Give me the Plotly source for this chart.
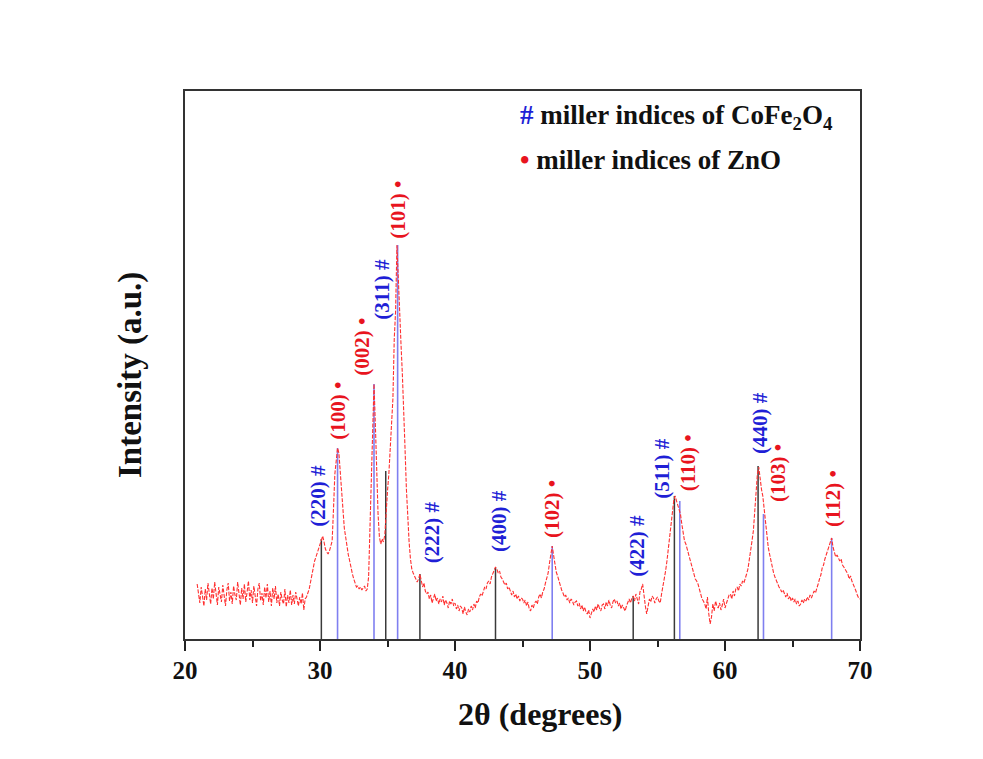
import plotly.graph_objects as go

# ---------------- data ----------------
theta_start = 20.9
theta_step = 0.1
intensity = [
    55,
    44, 36, 52, 41, 33, 50, 39, 56, 45, 35,
    51, 40, 57, 44, 34, 52, 43, 37, 54, 41,
    33, 49, 56, 38, 47, 35, 53, 44, 39, 57,
    43, 34, 51, 40, 55, 37, 47, 58, 39, 49,
    36, 53, 43, 33, 50, 56, 38, 46, 34, 52,
    41, 55, 37, 48, 33, 51, 40, 53, 36, 45,
    33, 47, 39, 35, 50, 32, 44, 36, 49, 34,
    44, 35, 47, 38, 33, 42, 35, 46, 29, 40,
    42, 46, 50, 57, 64, 72, 78, 82, 86, 90,
    96, 100, 103, 97, 90, 87, 85, 88, 92, 98,
    130, 165, 178, 191, 186, 168, 148, 126, 111, 102,
    91, 84, 78, 70, 65, 60, 56, 52, 53, 50,
    52, 49, 51, 53, 48, 50, 62, 110, 170, 225,
    255, 215, 165, 125, 102, 95, 100, 97, 104, 130,
    148, 165, 188, 212, 240, 300, 328, 394, 355, 320,
    295, 265, 235, 190, 150, 120, 97, 80, 70, 66,
    62, 60, 57, 60, 65, 58, 52, 56, 48, 45,
    47, 40, 44, 36, 42, 45, 38, 41, 35, 40,
    37, 43, 34, 39, 36, 31, 38, 35, 40, 33,
    36, 30, 34, 28, 33, 31, 25, 32, 27, 24,
    30, 27, 33, 29, 35, 31, 38, 36, 42, 45,
    43, 48, 52, 50, 56, 58, 55, 62, 66, 69,
    72, 70, 66, 68, 62, 60, 57, 54, 56, 50,
    52, 47, 44, 48, 42, 45, 40, 43, 38, 41,
    40, 36, 39, 33, 37, 30, 28, 34, 31, 36,
    38, 35, 42, 45, 41, 47, 50, 56, 60, 66,
    76, 86, 93, 84, 74, 67, 63, 58, 52, 49,
    46, 42, 44, 39, 41, 36, 40, 38, 34, 37,
    38, 33, 36, 30, 34, 28, 32, 27, 25, 29,
    21, 26, 30, 27, 33, 29, 35, 31, 28, 34,
    35, 30, 37, 33, 39, 34, 31, 37, 40, 36,
    38, 33, 36, 30, 34, 31, 28, 33, 37, 40,
    36, 41, 43, 38, 45, 40, 35, 47, 50, 55,
    42, 33, 25, 35, 40, 37, 43, 41, 36, 40,
    42, 38, 36, 45, 52, 60, 68, 78, 90, 105,
    115, 125, 138, 143, 138, 133, 128, 125, 115, 105,
    98, 95, 90, 86, 81, 76, 70, 64, 60, 58,
    55, 50, 45, 40, 38, 35, 30, 42, 25, 15,
    22, 35, 28, 38, 33, 31, 36, 29, 34, 40,
    31, 35, 38, 44, 45, 40, 48, 43, 50, 52,
    48, 55, 53, 58, 56, 62, 65, 70, 78, 88,
    98, 108, 125, 145, 165, 172, 160, 150, 143, 130,
    112, 98, 92, 85, 78, 72, 66, 62, 58, 55,
    52, 50, 47, 49, 45, 42, 46, 40, 43, 38,
    41, 37, 40, 35, 38, 33, 35, 39, 36, 40,
    38, 42, 39, 44, 41, 45, 48, 46, 52, 55,
    60, 64, 71, 74, 80, 84, 88, 92, 96, 101,
    92, 86, 82, 84, 80, 78, 80, 74, 72, 70,
    68, 65, 60, 63, 58, 55, 52, 48, 44, 41,
    40,
]

# reference stick patterns
cofe_pos = [30.1, 34.87, 37.4, 43.0, 53.2, 56.25, 62.45]
cofe_h = [100, 168, 65, 71, 43, 143, 173]
zno_pos = [31.3, 34.0, 35.75, 47.2, 56.65, 62.85, 67.9]
zno_h = [191, 255, 394, 93, 138, 125, 101]

# peak labels: text, x (deg), y centre (a.u.), phase
label_text = ["(220) #", "(100) \u2022", "(002) \u2022", "(311) #", "(101) \u2022",
              "(222) #", "(400) #", "(102) \u2022", "(422) #", "(511) #",
              "(110) \u2022", "(440) #", "(103) \u2022", "(112) \u2022"]
label_x = [29.84, 31.32, 33.09, 34.57, 35.75, 38.32, 43.25, 47.18, 53.47, 55.32,
           57.28, 62.6, 63.93, 68.0]
label_y = [143, 228, 292, 350, 429, 107, 118, 130, 93, 171, 176, 216, 166, 140]
label_phase = ["c", "z", "z", "c", "z", "c", "c", "z", "c", "c", "z", "c", "z", "z"]

x_ticks = [20, 30, 40, 50, 60, 70]

# ---------------- figure ----------------
FONT = "Liberation Serif"
RED = "#ff3030"
BLUE_TXT = "#1f1fd6"
RED_TXT = "#e8141e"

theta = [round(theta_start + i * theta_step, 2) for i in range(len(intensity))]

def sticks(pos, h):
    xs, ys = [], []
    for p, v in zip(pos, h):
        xs += [p, p, None]
        ys += [0, v, None]
    return xs, ys

fig = go.Figure()
sx, sy = sticks(cofe_pos, cofe_h)
fig.add_trace(go.Scatter(x=sx, y=sy, mode="lines",
                         line=dict(color="#3a3a3a", width=1.5), hoverinfo="skip"))
sx, sy = sticks(zno_pos, zno_h)
fig.add_trace(go.Scatter(x=sx, y=sy, mode="lines",
                         line=dict(color="#7f7ff0", width=1.6), hoverinfo="skip"))
fig.add_trace(go.Scatter(x=theta, y=intensity, mode="lines",
                         line=dict(color=RED, width=1.1, dash="4px,1.5px")))

for t, x, y, ph in zip(label_text, label_x, label_y, label_phase):
    fig.add_annotation(x=x, y=y, xref="x", yref="y", text=t, textangle=-90,
                       showarrow=False, xanchor="center", yanchor="middle",
                       font=dict(family=FONT, size=21, weight="bold",
                                 color=BLUE_TXT if ph == "c" else RED_TXT))

# plot area in page pixels: x 185..860, y 91..639
def px(xp):
    return (xp - 185) / 675

def py(yp):
    return (639 - yp) / 548

# legend-like text
fig.add_annotation(x=px(518), y=py(117), xref="paper", yref="paper",
                   xanchor="left", yanchor="middle", showarrow=False,
                   text="<span style='color:#1f1fd6'>#</span> miller indices of CoFe<sub>2</sub>O<sub>4</sub>",
                   font=dict(family=FONT, size=27, weight="bold", color="#111111"))
fig.add_annotation(x=px(518), y=py(160), xref="paper", yref="paper",
                   xanchor="left", yanchor="middle", showarrow=False,
                   text="<span style='color:#e8141e'>\u2022</span> miller indices of ZnO",
                   font=dict(family=FONT, size=27, weight="bold", color="#111111"))

# axis titles
fig.add_annotation(x=px(131), y=py(375), xref="paper", yref="paper",
                   text="Intensity (a.u.)", textangle=-90, showarrow=False,
                   xanchor="center", yanchor="middle",
                   font=dict(family=FONT, size=33, weight="bold", color="#111111"))
fig.add_annotation(x=px(540), y=py(714), xref="paper", yref="paper",
                   text="2\u03b8 (degrees)", showarrow=False,
                   xanchor="center", yanchor="middle",
                   font=dict(family=FONT, size=32, weight="bold", color="#111111"))

# page has an 8px body margin, so the figure is 8px smaller and offset
fig.update_layout(
    width=975, height=751,
    margin=dict(l=177, r=123, t=83, b=120, pad=0),
    paper_bgcolor="white", plot_bgcolor="white",
    showlegend=False,
    xaxis=dict(range=[20, 70], tickvals=x_ticks, ticktext=[str(v) for v in x_ticks],
               ticks="outside", ticklen=10, tickwidth=2, tickcolor="#222",
               minor=dict(dtick=5, ticks="outside", ticklen=6, tickwidth=2, tickcolor="#222"),
               showline=True, linecolor="#333", linewidth=2, mirror=True,
               showgrid=False, zeroline=False,
               tickfont=dict(family=FONT, size=25, weight="bold", color="#111"),
               ticklabelstandoff=-2),
    yaxis=dict(range=[0, 548], showticklabels=False, ticks="",
               showline=True, linecolor="#333", linewidth=2, mirror=True,
               showgrid=False, zeroline=False),
)

fig.write_html("out.html")
